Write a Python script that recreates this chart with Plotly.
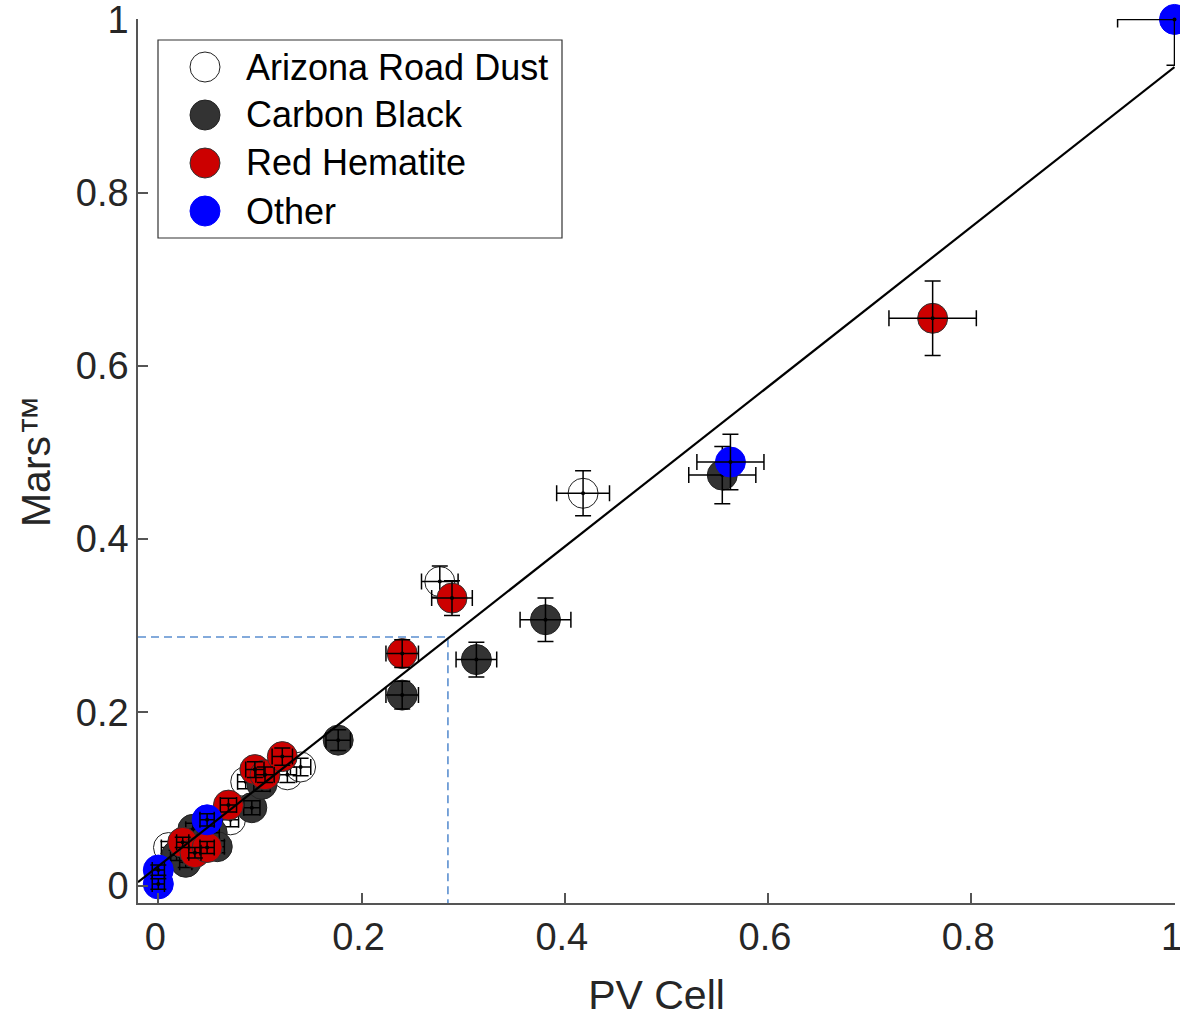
import plotly.graph_objects as go

# ---------------- data ----------------
series_names = ["Arizona Road Dust", "Carbon Black", "Red Hematite", "Other"]

ard_x = [0.010, 0.071, 0.086, 0.127, 0.140, 0.277, 0.418]
ard_y = [0.044, 0.076, 0.120, 0.128, 0.137, 0.351, 0.453]
ard_ex = [0.007, 0.008, 0.008, 0.009, 0.010, 0.018, 0.026]
ard_ey = [0.007, 0.008, 0.008, 0.009, 0.010, 0.018, 0.026]

cb_x = [0.018, 0.027, 0.034, 0.053, 0.058, 0.092, 0.102, 0.177, 0.240, 0.313, 0.381, 0.555]
cb_y = [0.035, 0.027, 0.065, 0.061, 0.045, 0.090, 0.117, 0.168, 0.220, 0.261, 0.307, 0.474]
cb_ex = [0.006, 0.006, 0.007, 0.007, 0.007, 0.008, 0.008, 0.012, 0.016, 0.020, 0.025, 0.033]
cb_ey = [0.006, 0.006, 0.007, 0.007, 0.007, 0.008, 0.008, 0.012, 0.016, 0.020, 0.025, 0.033]

rh_x = [0.024, 0.036, 0.048, 0.069, 0.095, 0.105, 0.122, 0.240, 0.289, 0.762]
rh_y = [0.050, 0.038, 0.044, 0.093, 0.134, 0.128, 0.149, 0.268, 0.332, 0.655]
rh_ex = [0.006, 0.006, 0.007, 0.008, 0.009, 0.009, 0.010, 0.016, 0.020, 0.043]
rh_ey = [0.006, 0.006, 0.007, 0.008, 0.009, 0.009, 0.010, 0.016, 0.020, 0.043]

ot_x = [0.0, 0.0, 0.048, 0.563, 1.0]
ot_y = [0.018, 0.002, 0.076, 0.489, 1.0]
ot_ex = [0.006, 0.006, 0.007, 0.033, 0.056]
ot_ey = [0.006, 0.006, 0.007, 0.032, 0.053]

fit_x = [-0.02, 1.0]
fit_y = [0.004, 0.945]

ref_x = 0.285   # dashed guide
ref_y = 0.287

tick_vals = [0, 0.2, 0.4, 0.6, 0.8, 1]
tick_text = ["0", "0.2", "0.4", "0.6", "0.8", "1"]

# ---------------- styles ----------------
fills = ["#ffffff", "#333333", "#cc0000", "#0000ff"]
edges = ["#222222", "#222222", "#333333", "#0000ff"]
FONT = "Liberation Sans, Arial, sans-serif"
TXT = "#262626"

fig = go.Figure()

datasets = [
    (ard_x, ard_y, ard_ex, ard_ey),
    (cb_x, cb_y, cb_ex, cb_ey),
    (rh_x, rh_y, rh_ex, rh_ey),
    (ot_x, ot_y, ot_ex, ot_ey),
]

for (x, y, ex, ey), name, fc, ec in zip(datasets, series_names, fills, edges):
    fig.add_trace(go.Scatter(
        x=x, y=y, mode="markers", name=name, showlegend=False,
        marker=dict(size=30, color=fc, line=dict(color=ec, width=1)),
        cliponaxis=False,
    ))
    fig.add_trace(go.Scatter(
        x=x, y=y, mode="markers", showlegend=False,
        marker=dict(size=4, color="black"),
        error_x=dict(type="data", array=ex, symmetric=True, color="black",
                     thickness=1.5, width=8),
        error_y=dict(type="data", array=ey, symmetric=True, color="black",
                     thickness=1.5, width=8),
        cliponaxis=False,
    ))

# dashed guide lines
fig.add_trace(go.Scatter(
    x=[-0.02, ref_x, ref_x], y=[ref_y, ref_y, -0.02], mode="lines",
    line=dict(color="#5b8fd0", width=1.6, dash="8px,5px"), showlegend=False,
))
# fit line
fig.add_trace(go.Scatter(
    x=fit_x, y=fit_y, mode="lines", line=dict(color="black", width=2.2),
    showlegend=False,
))

# ---------------- layout geometry (body margin removed via post_script) ----------------
FW, FH = 1180, 1018
L, R, T, B = 138, 1175, 19, 903
W, H = R - L, B - T
def px(xp):
    return (xp - L) / W
def py(yp):
    return (B - yp) / H

# ---------------- manual legend (paper coords) ----------------
fig.add_shape(type="rect", xref="paper", yref="paper",
              x0=px(158), x1=px(562), y0=py(238), y1=py(40),
              line=dict(color="#333333", width=1.2), fillcolor="white", layer="above")
rows = [67, 115, 163, 211]
for name, fc, ec, ry in zip(series_names, fills, edges, rows):
    fig.add_shape(type="circle", xref="paper", yref="paper",
                  xsizemode="pixel", ysizemode="pixel",
                  xanchor=px(205), yanchor=py(ry),
                  x0=-15, x1=15, y0=-15, y1=15,
                  fillcolor=fc, line=dict(color=ec, width=1), layer="above")
    fig.add_annotation(xref="paper", yref="paper", x=px(244), y=py(ry),
                       text=name, showarrow=False, xanchor="left", yanchor="middle",
                       font=dict(family=FONT, size=36, color="black"))

axis_common = dict(
    showline=True, linecolor="#555555", linewidth=1.5, mirror=False,
    ticks="inside", ticklen=10, tickwidth=1.5, tickcolor="#555555",
    showgrid=False, zeroline=False,
    tickvals=tick_vals, ticktext=tick_text,
    tickfont=dict(family=FONT, size=38, color=TXT),
    ticklabeloverflow="allow",
    range=[-0.02, 1.0005],
    automargin=False,
)

fig.update_layout(
    width=FW, height=FH,
    margin=dict(l=L, r=FW - R, t=T, b=FH - B),
    paper_bgcolor="white", plot_bgcolor="white",
    xaxis=dict(**axis_common,
               ticklabelshift=-3,
               title=dict(text="PV Cell", font=dict(family=FONT, size=41, color=TXT),
                          standoff=28)),
    yaxis=dict(**axis_common,
               title=dict(text="Mars™", font=dict(family=FONT, size=41, color=TXT),
                          standoff=12)),
    showlegend=False,
)

fig.write_html("out.html",
               config={"displayModeBar": False},
               post_script="document.body.style.margin='0';document.body.style.overflow='hidden';")
